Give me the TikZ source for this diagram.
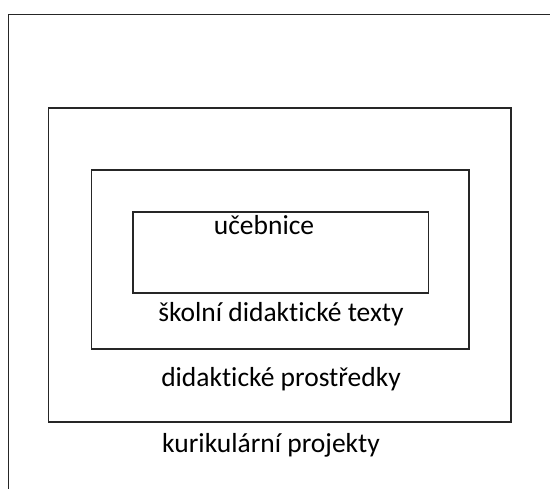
\documentclass[tikz,border=0pt]{standalone}
\usepackage{fontspec}
\setmainfont{Carlito}[Ligatures=NoCommon]
\begin{document}
\begin{tikzpicture}[x=1pt,y=1pt,
  box/.style={draw=black!85,line width=1.5pt,inner sep=0pt,outer sep=0pt},
  lbl/.style={anchor=base,inner sep=0pt,font=\fontsize{27.5}{32}\selectfont,text=black}]
\useasboundingbox (0,0) rectangle (550,-489);
\clip (0,0) rectangle (550,-489);
\fill[white] (0,0) rectangle (550,-489);
\node[box,minimum width=551.5pt,minimum height=485.5pt] (r1) at (284.25,-257.25) {};
\node[box,minimum width=462.5pt,minimum height=314pt] (r2) at (279.75,-265) {};
\node[box,minimum width=377.5pt,minimum height=179pt] (r3) at (280.25,-259.5) {};
\node[box,minimum width=295.5pt,minimum height=81pt] (r4) at (280.75,-252.5) {};
\node[lbl] (t4) at (264,-235) {učebnice};
\node[lbl] (t3) at (281,-322) {školní didaktické texty};
\node[lbl] (t2) at (281,-387) {didaktické prostředky};
\node[lbl] (t1) at (271,-453) {kurikulární projekty};
\end{tikzpicture}
\end{document}
